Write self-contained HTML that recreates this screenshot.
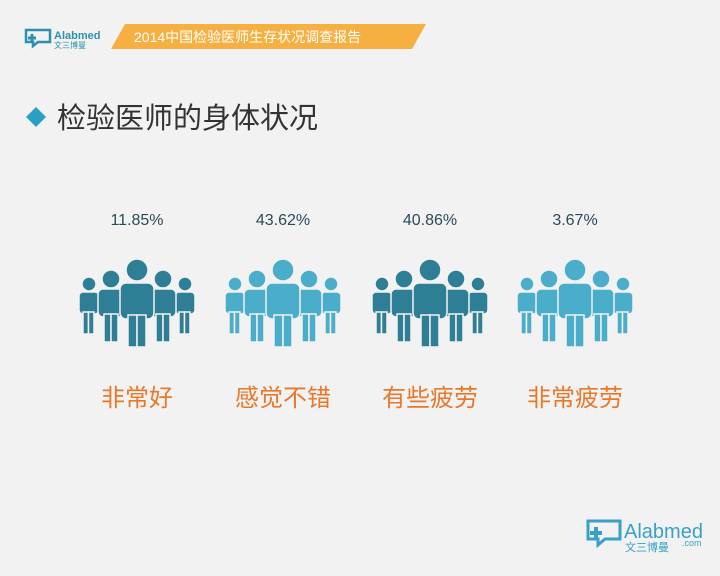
<!DOCTYPE html>
<html><head><meta charset="utf-8"><style>
body{margin:0;width:720px;height:576px;background:#f2f2f2;overflow:hidden;font-family:"Liberation Sans","Noto Sans CJK SC",sans-serif;}
</style></head><body>
<svg width="720" height="576" xmlns="http://www.w3.org/2000/svg" style="position:absolute;left:0;top:0">
<defs>
<g id="grp" stroke="#f2f2f2" stroke-width="1.5">
 <g>
  <circle cx="-48" cy="284" r="7"/>
  <rect x="-58" y="292" width="20" height="22" rx="4"/>
  <rect x="-54" y="312" width="5.5" height="22"/><rect x="-48.5" y="312" width="5.5" height="22"/>
 </g>
 <g>
  <circle cx="48" cy="284" r="7"/>
  <rect x="38" y="292" width="20" height="22" rx="4"/>
  <rect x="42" y="312" width="5.5" height="22"/><rect x="47.5" y="312" width="5.5" height="22"/>
 </g>
 <g>
  <circle cx="-26" cy="279" r="9"/>
  <rect x="-39" y="289" width="26" height="28" rx="5"/>
  <rect x="-33" y="314" width="7" height="28"/><rect x="-26" y="314" width="7" height="28"/>
 </g>
 <g>
  <circle cx="26" cy="279" r="9"/>
  <rect x="13" y="289" width="26" height="28" rx="5"/>
  <rect x="19" y="314" width="7" height="28"/><rect x="26" y="314" width="7" height="28"/>
 </g>
 <g>
  <circle cx="0" cy="270" r="11"/>
  <rect x="-17" y="283" width="34" height="36" rx="6"/>
  <rect x="-9" y="315" width="9" height="32"/><rect x="0" y="315" width="9" height="32"/>
 </g>
</g>
</defs>
<!-- header logo -->
<g fill="none" stroke="#2e8fb0" stroke-width="2.5">
 <path d="M26 30 L50 30 L50 42 L38 42 L33 46 L33 42 L26 42 Z"/>
</g>
<path d="M28 38 h8 M32 34 v8" stroke="#2e8fb0" stroke-width="3"/>
<text x="54" y="39" font-size="11" font-weight="bold" fill="#2e8fb0">Alabmed</text>
<text x="54" y="48" font-size="8" fill="#2e8fb0">文三博曼</text>
<polygon points="125,24 426,24 412,49 111,49" fill="#f5b041"/>
<text x="134" y="42" font-size="14" fill="#fff">2014中国检验医师生存状况调查报告</text>
<!-- title -->
<polygon points="36,107 46,117 36,127 26,117" fill="#2a9fc5"/>
<text x="57" y="128" font-size="29" fill="#333">检验医师的身体状况</text>
<g font-size="16" fill="#2a4a5a" text-anchor="middle">
<text x="137" y="225">11.85%</text>
<text x="283" y="225">43.62%</text>
<text x="430" y="225">40.86%</text>
<text x="575" y="225">3.67%</text>
</g>
<g font-size="24" fill="#e8782a" text-anchor="middle">
<text x="137" y="406">非常好</text>
<text x="283" y="406">感觉不错</text>
<text x="430" y="406">有些疲劳</text>
<text x="575" y="406">非常疲劳</text>
</g>
<use href="#grp" transform="translate(137,0)" fill="#2e7f96"/>
<use href="#grp" transform="translate(283,0)" fill="#4aaecb"/>
<use href="#grp" transform="translate(430,0)" fill="#2e7f96"/>
<use href="#grp" transform="translate(575,0)" fill="#4aaecb"/>
<!-- footer logo -->
<g fill="none" stroke="#3aa0c8" stroke-width="3">
 <path d="M588 521 L620 521 L620 539 L605 539 L598 545 L598 539 L588 539 Z"/>
</g>
<path d="M590 533 h12 M596 527 v12" stroke="#3aa0c8" stroke-width="4"/>
<text x="624" y="538" font-size="20" fill="#3aa0c8">Alabmed</text>
<text x="625" y="551" font-size="11" fill="#3aa0c8">文三博曼</text>
<text x="682" y="546" font-size="9" fill="#3aa0c8">.com</text>
</svg>
</body></html>
